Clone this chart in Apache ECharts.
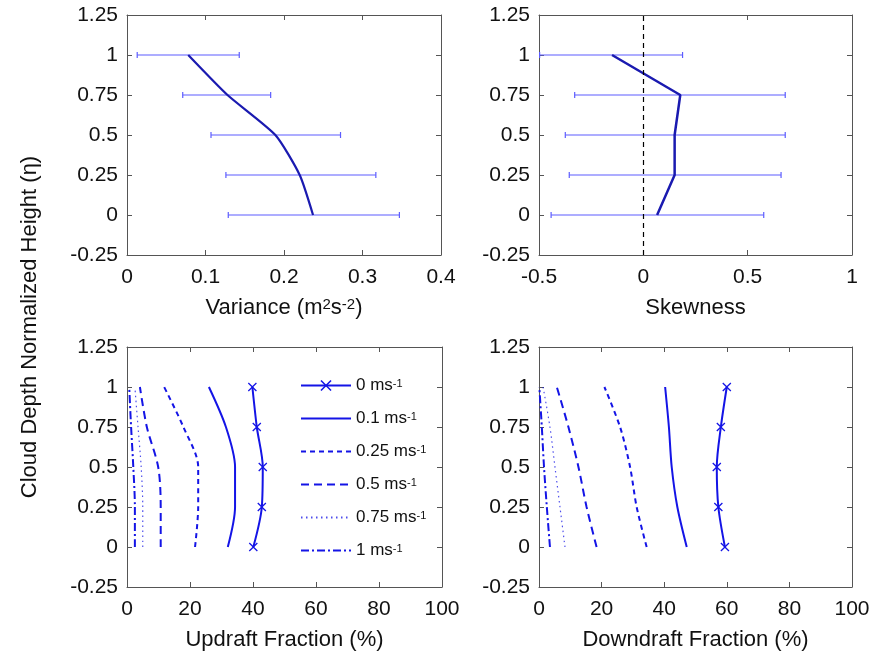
<!DOCTYPE html>
<html>
<head>
<meta charset="utf-8">
<script src="https://cdn.jsdelivr.net/npm/echarts@6/dist/echarts.min.js"></script>
<style>html,body{margin:0;padding:0;background:#fff;}#c{width:886px;height:656px;}</style>
</head>
<body>
<div id="c"></div>
<script>
// ---- data ----
const heights = [0, 0.25, 0.5, 0.75, 1];

const varianceMean = [0.237, 0.220, 0.189, 0.128, 0.078];
const varianceLow  = [0.129, 0.126, 0.107, 0.071, 0.013];
const varianceHigh = [0.347, 0.317, 0.272, 0.183, 0.143];

const skewMean = [0.066, 0.150, 0.150, 0.177, -0.150];
const skewLow  = [-0.442, -0.355, -0.374, -0.329, -0.497];
const skewHigh = [0.577, 0.660, 0.680, 0.680, 0.188];

const thresholdNames = ['0 ms', '0.1 ms', '0.25 ms', '0.5 ms', '0.75 ms', '1 ms'];

const updraft0   = [40.1, 42.8, 43.1, 41.2, 39.8];
const updraft01  = [32.0, 34.3, 34.3, 31.4, 26.0];
const updraft025 = [21.6, 22.6, 22.6, 17.9, 11.8];
const updraft05  = [10.7, 10.7, 9.9, 6.3, 4.1];
const updraft075 = [5.0, 5.0, 4.5, 3.5, 2.5];
const updraft1   = [2.5, 2.5, 2.0, 1.3, 0.7];

const downdraft0   = [59.4, 57.3, 56.8, 58.1, 60.0];
const downdraft01  = [47.2, 44.2, 42.4, 41.5, 40.3];
const downdraft025 = [34.4, 31.2, 29.1, 25.9, 20.9];
const downdraft05  = [18.4, 15.2, 12.6, 9.4, 5.7];
const downdraft075 = [8.3, 6.7, 5.1, 3.5, 1.3];
const downdraft1   = [3.5, 2.5, 1.6, 0.9, 0.1];

const xLabels = ['Variance (m{sup|2}s{sup|-2})', 'Skewness', 'Updraft Fraction (%)', 'Downdraft Fraction (%)'];
const yLabel = 'Cloud Depth Normalized Height (η)';

// ---- styles ----
const FONT = '"Liberation Sans", Arial, Helvetica, sans-serif';
const TXT = '#111';
const AX = '#555';
const BLUE = '#1414e6';
const DARK = '#1a1ab0';
const ERR = '#5d5dff';

const lineStyles = [
  {type: 'solid', width: 2},
  {type: 'solid', width: 2},
  {type: [5, 4], width: 2},
  {type: [8, 5], width: 2},
  {type: [1.5, 3.5], width: 1.2, opacity: 0.75},
  {type: [8, 3, 2, 3], width: 2}
];

const grids = [
  {left: 127, top: 15, width: 314, height: 240},
  {left: 539, top: 15, width: 313, height: 240},
  {left: 127, top: 347, width: 315, height: 240},
  {left: 539, top: 347, width: 313, height: 240}
];
const xRanges = [[0, 0.4, 0.1], [-0.5, 1, 0.5], [0, 100, 20], [0, 100, 20]];

const xAxis = [], yAxis = [];
for (let g = 0; g < 4; g++) {
  xAxis.push({
    gridIndex: g, type: 'value', position: 'bottom',
    min: xRanges[g][0], max: xRanges[g][1], interval: xRanges[g][2],
    name: xLabels[g], nameLocation: 'middle', nameGap: 42,
    nameTextStyle: {fontSize: 22, color: TXT, fontFamily: FONT,
      rich: {sup: {fontSize: 15, color: TXT, fontFamily: FONT, verticalAlign: 'top', lineHeight: 14}}},
    axisLine: {show: true, onZero: false, lineStyle: {color: AX, width: 1}},
    axisTick: {show: true, inside: true, length: 5, lineStyle: {color: AX}},
    axisLabel: {fontSize: 21, color: TXT, fontFamily: FONT, margin: 12},
    splitLine: {show: false}
  });
  yAxis.push({
    gridIndex: g, type: 'value', position: 'left',
    min: -0.25, max: 1.25, interval: 0.25,
    axisLine: {show: true, onZero: false, lineStyle: {color: AX, width: 1}},
    axisTick: {show: true, inside: true, length: 5, lineStyle: {color: AX}},
    axisLabel: {fontSize: 21, color: TXT, fontFamily: FONT, margin: 9},
    splitLine: {show: false}
  });
}
for (let g = 0; g < 4; g++) {
  xAxis.push({
    gridIndex: g, type: 'value', position: 'top',
    min: xRanges[g][0], max: xRanges[g][1], interval: xRanges[g][2],
    axisLine: {show: true, onZero: false, lineStyle: {color: AX, width: 1}},
    axisTick: {show: true, inside: true, length: 5, lineStyle: {color: AX}},
    axisLabel: {show: false}, splitLine: {show: false}
  });
  yAxis.push({
    gridIndex: g, type: 'value', position: 'right',
    min: -0.25, max: 1.25, interval: 0.25,
    axisLine: {show: true, onZero: false, lineStyle: {color: AX, width: 1}},
    axisTick: {show: true, inside: true, length: 5, lineStyle: {color: AX}},
    axisLabel: {show: false}, splitLine: {show: false}
  });
}

function pairs(xs) { return xs.map((x, i) => [x, heights[i]]); }

function errorBars(idx, low, high) {
  return {
    type: 'custom', xAxisIndex: idx, yAxisIndex: idx, silent: true,
    data: heights.map((h, i) => [low[i], high[i], h]),
    encode: {x: [0, 1], y: 2},
    renderItem: function (params, api) {
      const y = api.value(2);
      const a = api.coord([api.value(0), y]);
      const b = api.coord([api.value(1), y]);
      const st = {stroke: ERR, lineWidth: 1.2};
      return {type: 'group', children: [
        {type: 'line', shape: {x1: a[0], y1: a[1], x2: b[0], y2: b[1]}, style: st},
        {type: 'line', shape: {x1: a[0], y1: a[1] - 3, x2: a[0], y2: a[1] + 3}, style: st},
        {type: 'line', shape: {x1: b[0], y1: b[1] - 3, x2: b[0], y2: b[1] + 3}, style: st}
      ]};
    }
  };
}

const CROSS = 'path://M0,1 L1,0 L5,4 L9,0 L10,1 L6,5 L10,9 L9,10 L5,6 L1,10 L0,9 L4,5 Z';

function fractionSeries(idx, sets) {
  return sets.map((vals, k) => ({
    type: 'line', name: thresholdNames[k], xAxisIndex: idx, yAxisIndex: idx,
    data: pairs(vals), smooth: 0.3,
    symbol: k === 0 ? CROSS : 'none', symbolSize: 9, showSymbol: k === 0,
    lineStyle: Object.assign({color: BLUE}, lineStyles[k]),
    itemStyle: {color: BLUE},
    silent: true
  }));
}

const series = [
  errorBars(0, varianceLow, varianceHigh),
  {type: 'line', xAxisIndex: 0, yAxisIndex: 0, data: pairs(varianceMean), smooth: 0.2,
   symbol: 'none', lineStyle: {color: DARK, width: 2.2}},
  errorBars(1, skewLow, skewHigh),
  {type: 'line', xAxisIndex: 1, yAxisIndex: 1, data: pairs(skewMean),
   symbol: 'none', lineStyle: {color: DARK, width: 2.5},
   markLine: {silent: true, symbol: 'none', label: {show: false},
     lineStyle: {color: '#000', type: [5, 4], width: 1.2},
     data: [{xAxis: 0}]}}
].concat(
  fractionSeries(2, [updraft0, updraft01, updraft025, updraft05, updraft075, updraft1]),
  fractionSeries(3, [downdraft0, downdraft01, downdraft025, downdraft05, downdraft075, downdraft1])
);

const legendData = thresholdNames.map((n, k) => k === 0 ? {name: n} : {name: n, itemStyle: {opacity: 0}});

const chart = echarts.init(document.getElementById('c'), null, {renderer: 'canvas'});
chart.setOption({
  backgroundColor: '#fff',
  animation: false,
  textStyle: {fontFamily: FONT},
  grid: grids,
  xAxis: xAxis,
  yAxis: yAxis,
  legend: {
    data: legendData, orient: 'vertical', left: 295, top: 372,
    itemWidth: 50, itemHeight: 14, itemGap: 16, selectedMode: false,
    formatter: n => n + '{sup|-1}',
    textStyle: {fontSize: 17, color: TXT, fontFamily: FONT, lineHeight: 14,
      rich: {sup: {fontSize: 11, color: TXT, fontFamily: FONT, verticalAlign: 'top', lineHeight: 8}}}
  },
  graphic: [{
    type: 'text', x: 30, y: 327, rotation: Math.PI / 2,
    style: {text: yLabel, fontSize: 22, fill: TXT, fontFamily: FONT,
      textAlign: 'center', textVerticalAlign: 'middle'}
  }],
  series: series
});
</script>
</body>
</html>
